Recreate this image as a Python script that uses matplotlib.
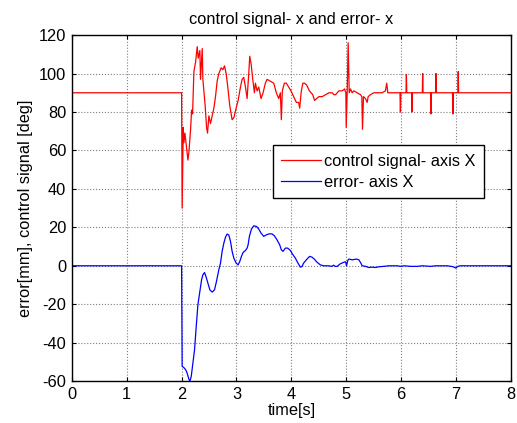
import matplotlib
matplotlib.use("Agg")
import matplotlib.pyplot as plt

plt.rcParams['font.family'] = ['Liberation Sans', 'DejaVu Sans']
plt.rcParams['font.size'] = 11.8
plt.rcParams['axes.unicode_minus'] = False

# control signal, axis X [deg]
t_ctrl = [0.0, 2.0, 2.01, 2.03, 2.042, 2.061, 2.085, 2.115, 2.133, 2.164, 2.182, 2.2,
          2.224, 2.255, 2.285, 2.303, 2.333, 2.345, 2.376, 2.388, 2.406, 2.43, 2.455,
          2.473, 2.497, 2.527, 2.558, 2.588, 2.618, 2.648, 2.679, 2.721, 2.752, 2.782,
          2.812, 2.842, 2.879, 2.921, 2.952, 2.994, 3.03, 3.073, 3.103, 3.133, 3.164,
          3.194, 3.224, 3.242, 3.267, 3.297, 3.327, 3.345, 3.376, 3.406, 3.448, 3.485,
          3.527, 3.558, 3.618, 3.679, 3.727, 3.77, 3.8, 3.818, 3.836, 3.873, 3.909,
          3.952, 3.994, 4.042, 4.091, 4.133, 4.152, 4.18, 4.21, 4.24, 4.28, 4.33,
          4.39, 4.424, 4.461, 4.503, 4.564, 4.624, 4.685, 4.745, 4.776, 4.806, 4.867,
          4.927, 4.97, 4.994, 5.0, 5.018, 5.036, 5.055, 5.079, 5.109, 5.139, 5.2,
          5.261, 5.285, 5.297, 5.315, 5.352, 5.382, 5.4, 5.442, 5.503, 5.564, 5.655,
          5.715, 5.739, 5.758, 5.98, 5.988, 5.996, 6.09, 6.097, 6.104, 6.193, 6.2,
          6.207, 6.387, 6.394, 6.401, 6.538, 6.545, 6.552, 6.629, 6.636, 6.643,
          6.938, 6.945, 6.952, 7.035, 7.042, 7.049, 8.0]
v_ctrl = [90, 90, 30, 72, 64, 69, 63, 55, 59, 71, 81, 79,
          101, 106, 114, 108, 112, 97, 113, 97, 91, 83, 72,
          69, 78, 74, 78, 82, 88, 96, 100, 103, 102, 104,
          100, 93, 83, 76, 77, 82, 86, 93, 97, 98, 93,
          87, 100, 109, 105, 97, 90, 95, 91, 93, 87, 90,
          95, 97, 96, 95, 90, 87, 90, 76, 91, 95, 95,
          93, 91, 88, 85, 85, 82, 90.5, 95, 95, 94, 91,
          89, 86, 87, 88, 88, 89, 90, 90, 89, 89, 91,
          91, 92, 90, 72, 90, 116, 90, 92, 90, 91, 90,
          89, 88, 71, 88, 87, 85, 88, 89, 90, 90, 90,
          91, 95, 90, 90, 80, 90, 90, 99.5, 90, 90, 80,
          90, 90, 100, 90, 90, 79, 90, 90, 100, 90,
          90, 79, 90, 90, 101, 90, 90]

# error, axis X [mm]
t_err = [0.0, 2.0, 2.01, 2.042, 2.073, 2.103, 2.133, 2.152, 2.176, 2.206, 2.236,
         2.267, 2.297, 2.333, 2.364, 2.388, 2.418, 2.448, 2.479, 2.515, 2.558, 2.6,
         2.636, 2.679, 2.709, 2.739, 2.77, 2.8, 2.83, 2.861, 2.891, 2.921, 2.952,
         2.994, 3.03, 3.061, 3.091, 3.121, 3.164, 3.194, 3.212, 3.236, 3.273, 3.315,
         3.364, 3.406, 3.448, 3.497, 3.545, 3.594, 3.648, 3.691, 3.739, 3.788, 3.818,
         3.848, 3.891, 3.933, 3.982, 4.03, 4.073, 4.115, 4.164, 4.194, 4.224, 4.273,
         4.333, 4.376, 4.418, 4.467, 4.527, 4.588, 4.679, 4.739, 4.77, 4.8, 4.836,
         4.885, 4.945, 4.988, 5.006, 5.03, 5.049, 5.109, 5.188, 5.231, 5.261, 5.292,
         5.353, 5.413, 5.474, 5.535, 5.596, 5.687, 5.778, 5.93, 5.991, 6.052, 6.173,
         6.295, 6.386, 6.538, 6.629, 6.842, 6.951, 6.994, 7.036, 7.085, 8.0]
v_err = [0, 0, -52.3, -53, -54, -56, -59, -60, -57.5, -50.6, -43.7,
         -31.5, -20.3, -13.3, -7.3, -4.7, -3.5, -5.9, -9, -12.5, -13.7, -12.5,
         -8.1, -2, 1.4, 7.5, 11.8, 14.9, 16.5, 16, 12.7, 7.5, 4,
         1.4, 0.5, 2.3, 4.9, 6.9, 8, 9.2, 10.9, 15.3, 19.1, 20.8,
         20.5, 19.1, 17, 15.3, 16.1, 16.6, 16.6, 15.6, 13.5, 10.9, 8.3,
         7.5, 9.2, 9.2, 8, 5.7, 4, 1.7, -0.7, -0.4, 1.4, 3.1,
         4.9, 4.5, 3.5, 1.9, 0.5, 0, 0, -0.3, 0.3, -0.3, -0.3,
         0.9, 1.7, 2.1, 0, 2.9, 3.5, 3.1, 3.5, 3.1, 1.7, 0,
         -0.3, -0.9, -0.7, -0.9, -0.5, -0.3, 0, 0, -0.3, 0, -0.3,
         -0.3, 0, -0.3, 0, 0, -0.5, -1.2, -0.3, 0, 0]

fig = plt.figure(figsize=(5.17, 4.23), dpi=100)
ax = fig.add_axes([0.139, 0.099, 0.849, 0.818])

ax.plot(t_ctrl, v_ctrl, color='#ff0000', lw=0.9, label='control signal- axis X')
ax.plot(t_err, v_err, color='#0000ff', lw=0.9, label='error- axis X')

ax.set_xlim(0, 8)
ax.set_ylim(-60, 120)
ax.set_xticks(range(0, 9))
ax.set_yticks(range(-60, 121, 20))
ax.grid(True, color='#7f7f7f', linestyle=':', linewidth=0.8)
ax.tick_params(direction='in', top=True, right=True, length=3, width=0.8, pad=4)
for s in ax.spines.values():
    s.set_linewidth(1.0)

ax.set_title('control signal- x and error- x', fontsize=11.8, pad=8)
ax.set_xlabel('time[s]', labelpad=1)
ax.set_ylabel('error[mm], control signal [deg]', labelpad=4)

leg = ax.legend(loc='upper left', bbox_to_anchor=(0.458, 0.681), fancybox=False,
                framealpha=1, edgecolor='black', handlelength=2.44,
                handletextpad=0.2, borderpad=0.5, labelspacing=0.37,
                borderaxespad=0)
leg.get_frame().set_linewidth(1.0)

fig.savefig('out.png', dpi=100, facecolor='white')
